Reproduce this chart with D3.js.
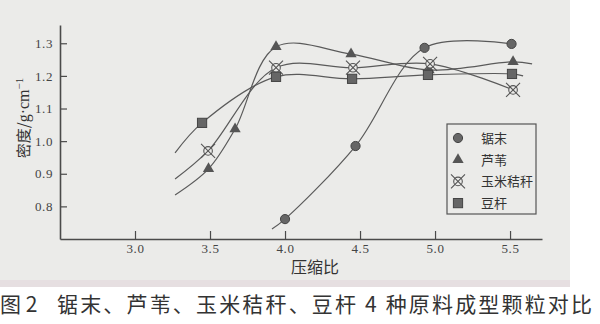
<!DOCTYPE html>
<html>
<head>
<meta charset="utf-8">
<script src="https://cdn.jsdelivr.net/npm/d3@7"></script>
<style>
  body { margin: 0; background: #fff; }
  svg { display: block; }
</style>
</head>
<body>
<script>
// tick labels
const xTicks = [3.0, 3.5, 4.0, 4.5, 5.0, 5.5];
const yTicks = [0.8, 0.9, 1.0, 1.1, 1.2, 1.3];

// series values (x = 压缩比, y = 密度)
const sawdustX = [4.0, 4.47, 4.93, 5.51];
const sawdustY = [0.761, 0.985, 1.286, 1.298];
const reedX = [3.49, 3.667, 3.94, 4.44, 4.96, 5.52];
const reedY = [0.915, 1.037, 1.289, 1.267, 1.218, 1.243];
const cornX = [3.487, 3.94, 4.453, 4.967, 5.52];
const cornY = [0.970, 1.225, 1.225, 1.237, 1.157];
const beanX = [3.447, 3.94, 4.447, 4.953, 5.513];
const beanY = [1.056, 1.197, 1.191, 1.203, 1.206];

// where the fitted curves start / end beyond the markers
const sawdustCurveEnds = [[3.913, 0.731], null];
const reedCurveEnds = [[3.267, 0.835], [5.647, 1.237]];
const cornCurveEnds = [[3.267, 0.884], null];
const beanCurveEnds = [[3.267, 0.964], [5.587, 1.200]];

const seriesNames = ['锯末', '芦苇', '玉米秸秆', '豆杆'];

const series = [
  { name: seriesNames[0], xs: sawdustX, ys: sawdustY, ends: sawdustCurveEnds, sym: 'circle' },
  { name: seriesNames[1], xs: reedX, ys: reedY, ends: reedCurveEnds, sym: 'triangle' },
  { name: seriesNames[2], xs: cornX, ys: cornY, ends: cornCurveEnds, sym: 'cross' },
  { name: seriesNames[3], xs: beanX, ys: beanY, ends: beanCurveEnds, sym: 'square' }
];

const W = 600, H = 324;
const ink = '#4a4a4a';
const svg = d3.select('body').append('svg').attr('width', W).attr('height', H);

// scanned paper background
svg.append('rect').attr('x', 0).attr('y', 0).attr('width', 570).attr('height', 286).attr('fill', '#ebebe9');
svg.append('rect').attr('x', 0).attr('y', 280).attr('width', 570).attr('height', 7).attr('fill', '#e6dfe1');

const x = d3.scaleLinear().domain([2.5, 5.713]).range([60, 542]);
const y = d3.scaleLinear().domain([0.7, 1.356]).range([239, 25]);

const tickFont = '"Liberation Serif", "DejaVu Serif", serif';
const cjkFont = '"Noto Sans CJK SC", sans-serif';

const xAxis = svg.append('g')
  .attr('transform', 'translate(0,239)')
  .call(d3.axisBottom(x).tickValues(xTicks).tickSize(-8).tickSizeOuter(0).tickPadding(5).tickFormat(d3.format('.1f')));
const yAxis = svg.append('g')
  .attr('transform', 'translate(60,0)')
  .call(d3.axisLeft(y).tickValues(yTicks).tickSize(-7).tickSizeOuter(0).tickPadding(7).tickFormat(d3.format('.1f')));

[xAxis, yAxis].forEach(g => {
  g.select('.domain').attr('stroke', ink).attr('stroke-width', 1.6);
  g.selectAll('.tick line').attr('stroke', ink).attr('stroke-width', 1.2);
  g.selectAll('.tick text').attr('fill', '#444').style('font-family', tickFont).style('font-size', '13px').style('letter-spacing', '0.6px');
});

// axis titles
svg.append('text')
  .attr('x', 315).attr('y', 273)
  .attr('text-anchor', 'middle')
  .attr('fill', '#333')
  .style('font-family', cjkFont)
  .style('font-size', '16px')
  .text('压缩比');

const yTitle = svg.append('text')
  .attr('transform', 'translate(29,118) rotate(-90)')
  .attr('text-anchor', 'middle')
  .attr('fill', '#333')
  .style('font-family', cjkFont)
  .style('font-size', '15px');
yTitle.append('tspan').text('密度/');
yTitle.append('tspan').style('font-family', tickFont).style('font-size', '16px').text('g·cm');
yTitle.append('tspan').attr('dy', -6).style('font-size', '11px').style('font-family', tickFont).text('−1');

// curves
const line = d3.line()
  .x(d => x(d[0]))
  .y(d => y(d[1]))
  .curve(d3.curveCatmullRom.alpha(0.5));

series.forEach(s => {
  let pts = s.xs.map((v, i) => [v, s.ys[i]]);
  if (s.ends[0]) pts = [s.ends[0]].concat(pts);
  if (s.ends[1]) pts = pts.concat([s.ends[1]]);
  svg.append('path')
    .attr('d', line(pts))
    .attr('fill', 'none')
    .attr('stroke', '#5a5a5a')
    .attr('stroke-width', 1.2);
});

// markers
function drawSymbol(g, sym, cx, cy) {
  if (sym === 'circle') {
    g.append('circle').attr('cx', cx).attr('cy', cy).attr('r', 4.6)
      .attr('fill', '#666').attr('stroke', '#444').attr('stroke-width', 1);
  } else if (sym === 'triangle') {
    g.append('path').attr('d', d3.symbol(d3.symbolTriangle, 55)())
      .attr('transform', `translate(${cx},${cy})`)
      .attr('fill', '#555');
  } else if (sym === 'square') {
    g.append('rect').attr('x', cx - 4.6).attr('y', cy - 4.6).attr('width', 9.2).attr('height', 9.2)
      .attr('fill', '#666').attr('stroke', '#444').attr('stroke-width', 1);
  } else {
    g.append('circle').attr('cx', cx).attr('cy', cy).attr('r', 4.3)
      .attr('fill', '#ebebe9').attr('stroke', '#555').attr('stroke-width', 1.1);
    g.append('path')
      .attr('d', `M${cx - 7},${cy - 7}L${cx + 7},${cy + 7}M${cx + 7},${cy - 7}L${cx - 7},${cy + 7}`)
      .attr('stroke', '#555').attr('stroke-width', 1.1);
  }
}

series.forEach(s => {
  const g = svg.append('g');
  s.xs.forEach((v, i) => drawSymbol(g, s.sym, x(v), y(s.ys[i])));
});

// legend
const legend = svg.append('g');
legend.append('rect').attr('x', 447).attr('y', 124).attr('width', 89).attr('height', 90)
  .attr('fill', '#ebebe9').attr('stroke', '#555').attr('stroke-width', 1.2);
series.forEach((s, i) => {
  const ry = 138 + i * 21.7;
  const g = legend.append('g');
  drawSymbol(g, s.sym, 458, ry);
  g.append('text').attr('x', 481).attr('y', ry + 5)
    .attr('fill', '#333')
    .style('font-family', cjkFont)
    .style('font-size', '13px')
    .text(s.name);
});

// caption
svg.append('text')
  .attr('x', 0).attr('y', 312)
  .attr('fill', '#333')
  .style('font-family', cjkFont)
  .style('font-size', '21px')
  .text('图 2');
svg.append('text')
  .attr('x', 57).attr('y', 312)
  .attr('fill', '#333')
  .attr('textLength', 535)
  .attr('lengthAdjust', 'spacing')
  .style('font-family', cjkFont)
  .style('font-size', '21px')
  .text('锯末、芦苇、玉米秸秆、豆杆 4 种原料成型颗粒对比');
</script>
</body>
</html>
